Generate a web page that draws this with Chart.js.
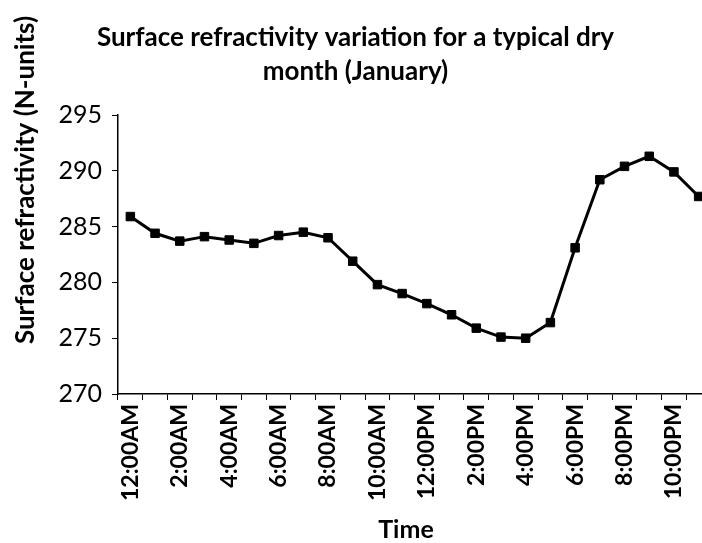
<!DOCTYPE html>
<html>
<head>
<meta charset="utf-8">
<script src="https://cdn.jsdelivr.net/npm/chart.js@4"></script>
<style>
  body { margin: 0; background: #fff; overflow: hidden; }
  #wrap { width: 712px; height: 543px; }
</style>
</head>
<body>
<div id="wrap"><canvas id="myChart"></canvas></div>
<script>
// hourly values for January
let hours = ["12:00AM","1:00AM","2:00AM","3:00AM","4:00AM","5:00AM","6:00AM","7:00AM",
             "8:00AM","9:00AM","10:00AM","11:00AM","12:00PM","1:00PM","2:00PM","3:00PM",
             "4:00PM","5:00PM","6:00PM","7:00PM","8:00PM","9:00PM","10:00PM","11:00PM"];
let refractivity = [285.9, 284.4, 283.7, 284.1, 283.8, 283.5, 284.2, 284.5,
                    284.0, 281.9, 279.8, 279.0, 278.1, 277.1, 275.9, 275.1,
                    275.0, 276.4, 283.1, 289.2, 290.4, 291.3, 289.9, 287.7];
let yMin = 270;
let yMax = 295;
let yStep = 5;

let chartTitle = ["Surface refractivity variation for a typical dry", "month (January)"];
let xTitle = "Time";
let yTitle = "Surface refractivity (N-units)";

// axis titles drawn by hand so they sit where the original put them
const axisTitles = {
  id: 'axisTitles',
  afterDraw(chart) {
    const ctx = chart.ctx;
    ctx.save();
    ctx.fillStyle = '#000';
    ctx.textAlign = 'center';
    ctx.textBaseline = 'middle';
    ctx.font = 'bold 25px Lato';
    ctx.fillText(xTitle, 406, 530);
    ctx.translate(26, 180);
    ctx.rotate(-Math.PI / 2);
    ctx.font = 'bold 26px Lato';
    ctx.fillText(yTitle, 0, 0);
    ctx.restore();
  }
};

let myChart = document.getElementById('myChart').getContext('2d');
let lineChart = new Chart(myChart, {
  type: 'line',
  data: {
    labels: hours,
    datasets: [{
      label: 'N',
      data: refractivity,
      borderColor: '#000',
      backgroundColor: '#000',
      borderWidth: 3,
      pointStyle: 'rect',
      pointRadius: 6,
      pointBorderWidth: 1,
      tension: 0
    }]
  },
  options: {
    responsive: true,
    maintainAspectRatio: false,
    animation: false,
    layout: { autoPadding: false, padding: { top: 0, left: 0, right: 1, bottom: 0 } },
    plugins: {
      legend: { display: false },
      tooltip: { enabled: false },
      title: {
        display: true,
        text: chartTitle,
        color: '#000',
        font: { family: 'Lato', size: 26, weight: 'bold', lineHeight: '34px' },
        padding: { top: 21, bottom: 26 }
      }
    },
    scales: {
      x: {
        offset: true,
        afterFit: s => { s.height = 149; s.paddingRight = 0; s.paddingLeft = 0; },
        grid: { display: true, offset: true, drawOnChartArea: false, tickLength: 6, color: '#000', lineWidth: 1 },
        border: { color: '#000', width: 1.5 },
        ticks: {
          autoSkip: false,
          maxRotation: 90,
          minRotation: 90,
          padding: 4,
          color: '#000',
          font: { family: 'Lato', size: 23, weight: 'bold' },
          callback: function (v, i) { return i % 2 === 0 ? this.getLabelForValue(v) : ''; }
        }
      },
      y: {
        min: yMin,
        max: yMax,
        afterFit: s => { s.width = 118; },
        grid: { display: true, drawOnChartArea: false, tickLength: 6, color: '#000' },
        border: { color: '#000', width: 1.5 },
        ticks: {
          stepSize: yStep,
          padding: 10,
          color: '#000',
          font: { family: 'Lato', size: 25 }
        }
      }
    }
  },
  plugins: [axisTitles]
});
</script>
</body>
</html>
